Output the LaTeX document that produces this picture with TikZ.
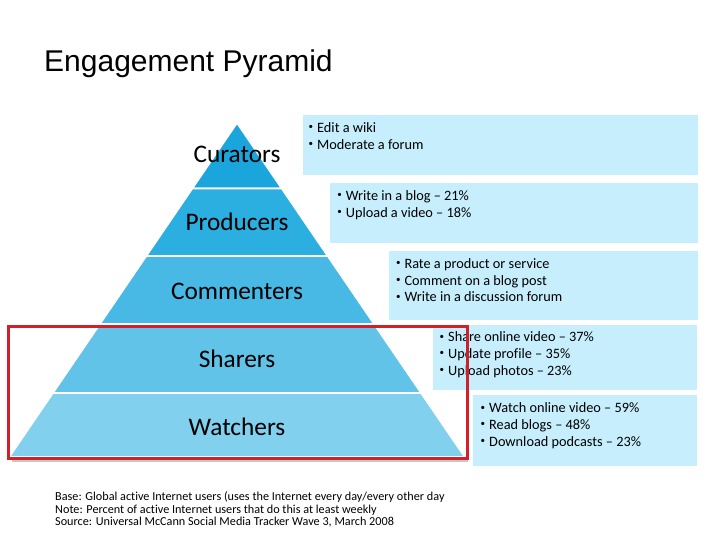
\documentclass[tikz,border=0pt]{standalone}
\usepackage{fontspec}
\setmainfont{Carlito}[Ligatures=NoCommon]
\newfontfamily\titlefont{Liberation Sans}
\definecolor{cCur}{HTML}{1AA6DC}
\definecolor{cPro}{HTML}{2BAFE0}
\definecolor{cCom}{HTML}{48B9E4}
\definecolor{cSha}{HTML}{62C3E9}
\definecolor{cWat}{HTML}{80D0EE}
\definecolor{cBox}{HTML}{C6EEFC}
\definecolor{cRed}{HTML}{D0202A}
\newcommand\bul{\makebox[8.5pt][l]{\raisebox{2.6pt}{\fontsize{9}{9}\selectfont •}}}
\begin{document}
\begin{tikzpicture}[x=1pt,y=-1pt,
  infobox/.style={fill=cBox, draw=none, inner sep=0, anchor=north west},
  item/.style={anchor=base west, inner sep=0, font=\fontsize{14.3}{16}\selectfont},
  level/.style={anchor=base, inner sep=0, font=\fontsize{25.3}{27}\selectfont},
  foot/.style={anchor=base west, inner sep=0, font=\fontsize{12.2}{13}\selectfont},
  band/.style={draw=white, line width=1.6pt, line join=miter}]
\useasboundingbox (0,0) rectangle (728,546);
% title
\node[anchor=base west, inner sep=0, font=\titlefont\fontsize{30}{31}\selectfont] (title) at (44,71) {Engagement Pyramid};
% info boxes
\node[infobox, minimum width=395, minimum height=60] (b1) at (303,115) {};
\node[infobox, minimum width=368, minimum height=60] (b2) at (330,183) {};
\node[infobox, minimum width=309, minimum height=69] (b3) at (389,251) {};
\node[infobox, minimum width=264, minimum height=65] (b4) at (433,325) {};
\node[infobox, minimum width=224, minimum height=71] (b5) at (473,395) {};
% pyramid bands
\draw[gray!45, line width=1.5pt] (12,461) -- (468,461);
\foreach \t/\b/\c in {123/188.5/cCur, 188.5/256/cPro, 256/324/cCom, 324/393/cSha, 393/457/cWat}{
  \fill[\c, band] ({237-0.6817*(\t-123)},\t) -- ({237+0.6817*(\t-123)},\t) -- ({237+0.6817*(\b-123)},\b) -- ({237-0.6817*(\b-123)},\b) -- cycle;
}
% level labels
\node[level] (cur) at (237,162) {Curators};
\node[level] (pro) at (237,230) {Producers};
\node[level] (com) at (237,299) {Commenters};
\node[level] (sha) at (237,367) {Sharers};
\node[level] (wat) at (237,435) {Watchers};
% box texts
\node[item] (b1a) at (308.5,132.5) {\bul Edit a wiki};
\node[item] (b1b) at (308.5,149) {\bul Moderate a forum};
\node[item] (b2a) at (337.2,200.5) {\bul Write in a blog – 21\%};
\node[item] (b2b) at (337.2,217.2) {\bul Upload a video – 18\%};
\node[item] (b3a) at (395.8,268.5) {\bul Rate a product or service};
\node[item] (b3b) at (395.8,285.2) {\bul Comment on a blog post};
\node[item] (b3c) at (395.8,301.8) {\bul Write in a discussion forum};
\node[item] (b4a) at (439.5,341.8) {\bul Share online video – 37\%};
\node[item] (b4b) at (439.5,358.5) {\bul Update profile – 35\%};
\node[item] (b4c) at (439.5,375.2) {\bul Upload photos – 23\%};
\node[item] (b5a) at (480.5,412.8) {\bul Watch online video – 59\%};
\node[item] (b5b) at (480.5,429.5) {\bul Read blogs – 48\%};
\node[item] (b5c) at (480.5,446.2) {\bul Download podcasts – 23\%};
% highlight
\node[draw=cRed, line width=3pt, inner sep=0, minimum width=459, minimum height=132, anchor=north west] (hl) at (7,325) {};
% footer
\node[foot] (f1) at (55,500.6) {Base: Global active Internet users (uses the Internet every day/every other day};
\node[foot] (f2) at (55,513) {Note: Percent of active Internet users that do this at least weekly};
\node[foot] (f3) at (55,525.3) {Source: Universal McCann Social Media Tracker Wave 3, March 2008};
\end{tikzpicture}
\end{document}
